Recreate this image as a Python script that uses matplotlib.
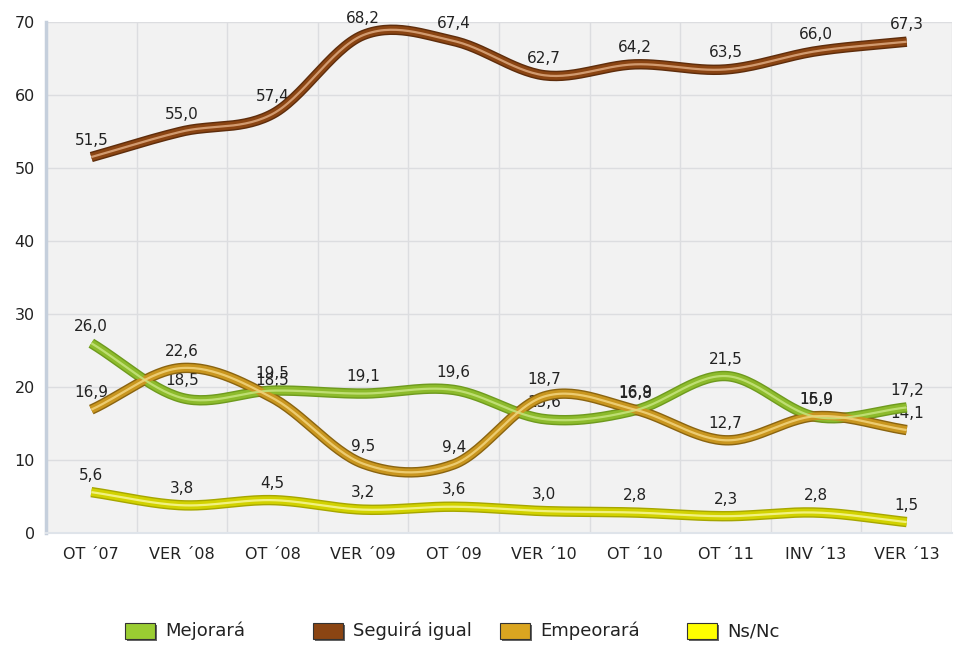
import numpy as np
import matplotlib
matplotlib.use("Agg")
import matplotlib.pyplot as plt
from matplotlib.patches import Rectangle

categories = ["OT ´07", "VER ´08", "OT ´08", "VER ´09", "OT ´09", "VER ´10", "OT ´10", "OT ´11", "INV ´13", "VER ´13"]
mejorara = [26.0, 18.5, 19.5, 19.1, 19.6, 15.6, 16.8, 21.5, 15.9, 17.2]
seguira = [51.5, 55.0, 57.4, 68.2, 67.4, 62.7, 64.2, 63.5, 66.0, 67.3]
empeorara = [16.9, 22.6, 18.5, 9.5, 9.4, 18.7, 16.9, 12.7, 16.0, 14.1]
nsnc = [5.6, 3.8, 4.5, 3.2, 3.6, 3.0, 2.8, 2.3, 2.8, 1.5]
series_names = ["Mejorará", "Seguirá igual", "Empeorará", "Ns/Nc"]
yticks = [0, 10, 20, 30, 40, 50, 60, 70]

plt.rcParams['font.family'] = ['DejaVu Sans']

fig = plt.figure(figsize=(9.55, 6.48), dpi=100)
ax = fig.add_axes([46/955, 1 - 533/648, 906/955, (533 - 22)/648])
ax.set_facecolor("#f2f2f2")


def smooth(xs, ys, n=30):
    xs = np.asarray(xs, float)
    ys = np.asarray(ys, float)
    px = np.concatenate([[2*xs[0]-xs[1]], xs, [2*xs[-1]-xs[-2]]])
    py = np.concatenate([[2*ys[0]-ys[1]], ys, [2*ys[-1]-ys[-2]]])
    ox, oy = [], []
    t = np.linspace(0, 1, n, endpoint=False)
    for i in range(1, len(px) - 2):
        p0, p1, p2, p3 = (px[i-1], py[i-1]), (px[i], py[i]), (px[i+1], py[i+1]), (px[i+2], py[i+2])
        for k in range(2):
            a0, a1, a2, a3 = p0[k], p1[k], p2[k], p3[k]
            v = 0.5 * ((2*a1) + (-a0 + a2)*t + (2*a0 - 5*a1 + 4*a2 - a3)*t**2 + (-a0 + 3*a1 - 3*a2 + a3)*t**3)
            (ox if k == 0 else oy).append(v)
    ox = np.concatenate(ox + [[xs[-1]]])
    oy = np.concatenate(oy + [[ys[-1]]])
    return ox, oy

x = np.arange(len(categories))
styles = [
    (mejorara, "#6e9a1e", "#8dbb2c", "#c4e27a"),
    (seguira, "#5e2d0c", "#8B4513", "#d9a47a"),
    (empeorara, "#8a6410", "#c9961f", "#f0d27a"),
    (nsnc, "#a6a600", "#d2d200", "#f5f590"),
]

for vals, dark, base, light in styles:
    sx, sy = smooth(x, vals)
    ax.plot(sx, sy, color=dark, lw=7.5, solid_capstyle='butt', zorder=3)
    ax.plot(sx, sy, color=base, lw=5.5, solid_capstyle='butt', zorder=4)
    ax.plot(sx, sy, color=light, lw=1.6, solid_capstyle='butt', zorder=5, alpha=0.9)

for vals, *_ in styles:
    for xi, v in zip(x, vals):
        ax.annotate(f"{v:.1f}".replace(".", ","), (xi, v), xytext=(0, 17),
                    textcoords='offset pixels', ha='center', va='center',
                    fontsize=11, color='#222222', zorder=2)

ax.set_xlim(-0.5, len(categories) - 0.5)
ax.set_ylim(0, 70)
ax.set_yticks(yticks)
ax.set_yticklabels([str(v) for v in yticks], fontsize=11.5, color='#222222')
ax.set_xticks(x)
ax.set_xticklabels(categories, fontsize=11.5, color='#222222')
ax.set_xticks(np.arange(len(categories) + 1) - 0.5, minor=True)
ax.tick_params(axis='both', which='both', length=0)
ax.tick_params(axis='x', pad=10)
ax.tick_params(axis='y', pad=8)
ax.grid(True, axis='y', which='major', color='#dcdde0', lw=1, zorder=0)
ax.grid(True, axis='x', which='minor', color='#dcdde0', lw=1, zorder=0)
ax.grid(False, axis='x', which='major')
ax.set_axisbelow(True)
for s in ['top', 'right']:
    ax.spines[s].set_visible(False)
ax.spines['left'].set_color('#c5cfdc')
ax.spines['left'].set_linewidth(2.5)
ax.spines['bottom'].set_color('#dfe4ea')
ax.spines['bottom'].set_linewidth(1.5)

# legend
leg_colors = ["#9ACD32", "#8B4513", "#DAA520", "#FFFF00"]
box_x = [125, 313, 500, 687]
W, H = 955, 648
for name, c, bx in zip(series_names, leg_colors, box_x):
    yb = 631
    fig.patches.append(Rectangle(((bx + 2) / W, 1 - (yb + 10) / H), 30 / W, 16 / H,
                                 transform=fig.transFigure, facecolor='#666666', edgecolor='none'))
    fig.patches.append(Rectangle((bx / W, 1 - (yb + 8) / H), 30 / W, 16 / H,
                                 transform=fig.transFigure, facecolor=c, edgecolor='#333333', lw=0.8))
    fig.text((bx + 40) / W, 1 - yb / H, name, fontsize=13, va='center', ha='left', color='#222222')

fig.savefig("out.png", dpi=100, facecolor='white')
